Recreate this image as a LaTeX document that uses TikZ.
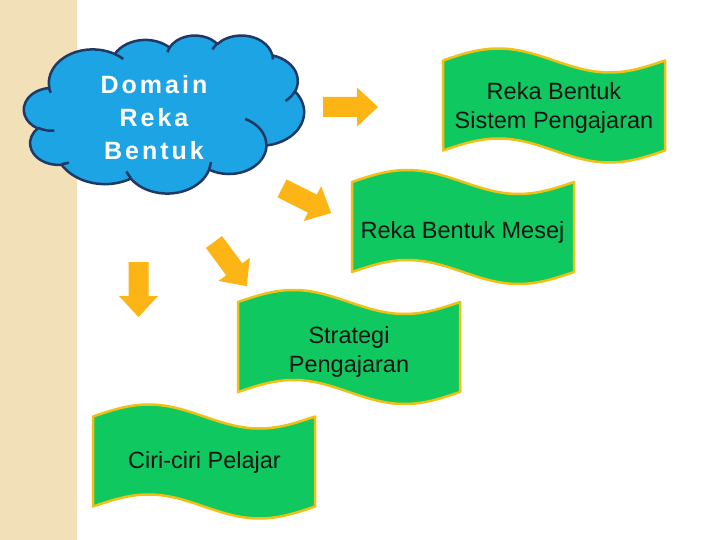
\documentclass[tikz,border=0pt]{standalone}
\usepackage{fontspec}
\setmainfont{Liberation Sans}
\newfontfamily\cloudfont{Liberation Sans}[LetterSpace=12]
\definecolor{stripbg}{RGB}{242,224,184}
\definecolor{cloudfill}{RGB}{28,164,228}
\definecolor{cloudline}{RGB}{31,56,100}
\definecolor{arrowfill}{RGB}{252,181,21}
\definecolor{bannerfill}{RGB}{16,200,96}
\definecolor{bannerline}{RGB}{240,192,20}
\definecolor{labeltext}{RGB}{20,20,20}
% elliptical arc given as in DrawingML (visual start angle and sweep)
\newcommand{\cldarc}[4]{arc[x radius=#1, y radius=#2, start angle={atan2(#1*sin(#3),#2*cos(#3))}, delta angle={mod(atan2(#1*sin(#3+#4),#2*cos(#3+#4))-atan2(#1*sin(#3),#2*cos(#3))+720,360)}]}
\newcommand{\bannerpath}{(0,0) sin (55.5,-12) cos (111,0) sin (166.5,12) cos (222,0) -- (222,90) sin (166.5,102) cos (111,90) sin (55.5,78) cos (0,90) -- cycle}
\newcommand{\arrowpath}{(0,-10) -- (34,-10) -- (34,-19.5) -- (55,0) -- (34,19.5) -- (34,10) -- (0,10) -- cycle}
\begin{document}
\begin{tikzpicture}[x=1pt,y=-1pt,line join=round,
  bannershape/.style={fill=bannerfill,draw=bannerline,line width=2.5pt},
  blockarrow/.style={fill=arrowfill},
  cloudshape/.style={fill=cloudfill,draw=cloudline,line width=2.5pt},
  cloudcrease/.style={draw=cloudline,line width=2.5pt},
  bannertext/.style={font=\fontsize{23.5}{28}\selectfont,text=labeltext,anchor=base,inner sep=0pt},
  cloudtext/.style={font=\cloudfont\bfseries\fontsize{25}{30}\selectfont,text=white,anchor=base,inner sep=0pt}]
\fill[white] (0,0) rectangle (720,540);
\useasboundingbox (0,0) rectangle (720,540);
\fill[stripbg] (0,0) rectangle (77,540);

% cloud
\begin{scope}[shift={(24,35)},x=0.064815pt,y=-0.036574pt]
\path[cloudshape] (390,1437)
  \cldarc{675.3}{919.0}{-190.4875}{123.7805}
  \cldarc{533.3}{726.7}{-144.1024}{89.9452}
  \cldarc{436.5}{594.5}{-145.8079}{99.7230}
  \cldarc{485.7}{659.5}{-130.9861}{117.2417}
  \cldarc{533.3}{727.3}{-78.7089}{109.0269}
  \cldarc{677.5}{922.0}{-46.2673}{130.2690}
  \cldarc{578.5}{786.7}{0.6250}{114.0333}
  \cldarc{675.2}{921.5}{22.4516}{115.1726}
  \cldarc{772.0}{1054.3}{66.2426}{75.7110}
  \cldarc{436.0}{591.8}{-274.9421}{146.7356}
  \cldarc{434.5}{594.5}{-246.8285}{152.5189}
  -- cycle;
\path[cloudcrease]
  (469.3,2617.7) \cldarc{434.5}{594.5}{86.742}{26.4295}
  (692.8,3489.9) \cldarc{436.0}{591.8}{73.6105}{11.4475}
  (1647.8,3909.0) \cldarc{675.2}{921.5}{137.6242}{14.0811}
  (2882.7,3475.1) \cldarc{675.2}{921.5}{6.4533}{15.9984}
  (3412.9,2295.4) \cldarc{578.5}{786.7}{-70.2924}{70.9174}
  (4179.8,1535.4) \cldarc{533.3}{727.3}{30.3180}{27.7515}
  (3832.4,542.6) \cldarc{485.7}{659.5}{-13.7443}{14.8589}
  (2907.8,395.2) \cldarc{485.7}{659.5}{-149.1815}{18.1954}
  (2214.1,472.0) \cldarc{436.5}{594.5}{-163.4943}{17.6864}
  (1400.0,519.2) \cldarc{675.3}{919.0}{-66.7070}{12.3194}
  (412.7,1578.9) \cldarc{675.3}{919.0}{153.9485}{12.8192};
\end{scope}
\node[cloudtext] (cloudA) at (154,93.3) {Domain};
\node[cloudtext] (cloudB) at (154,126.7) {Reka};
\node[cloudtext] (cloudC) at (154,160) {Bentuk};

% arrows
\fill[blockarrow,shift={(323,107)}] \arrowpath;
\fill[blockarrow,shift={(282,188.4)},rotate=-26.6] \arrowpath;
\fill[blockarrow,shift={(214,242)},rotate=-53.5] \arrowpath;
\fill[blockarrow,shift={(138.5,262)},rotate=-90] \arrowpath;

% banners
\path[bannershape,shift={(443,60.5)}] \bannerpath;
\path[bannershape,shift={(352,182)}] \bannerpath;
\path[bannershape,shift={(238,302)}] \bannerpath;
\path[bannershape,shift={(93,416.5)}] \bannerpath;

\node[bannertext] (sysA) at (554,100) {Reka Bentuk};
\node[bannertext] (sysB) at (554,128.3) {Sistem Pengajaran};
\node[bannertext] (mesej) at (462.5,238) {Reka Bentuk Mesej};
\node[bannertext] (stratA) at (349,343.3) {Strategi};
\node[bannertext] (stratB) at (349,372.7) {Pengajaran};
\node[bannertext] (ciri) at (204.5,468) {Ciri-ciri Pelajar};
\end{tikzpicture}
\end{document}
